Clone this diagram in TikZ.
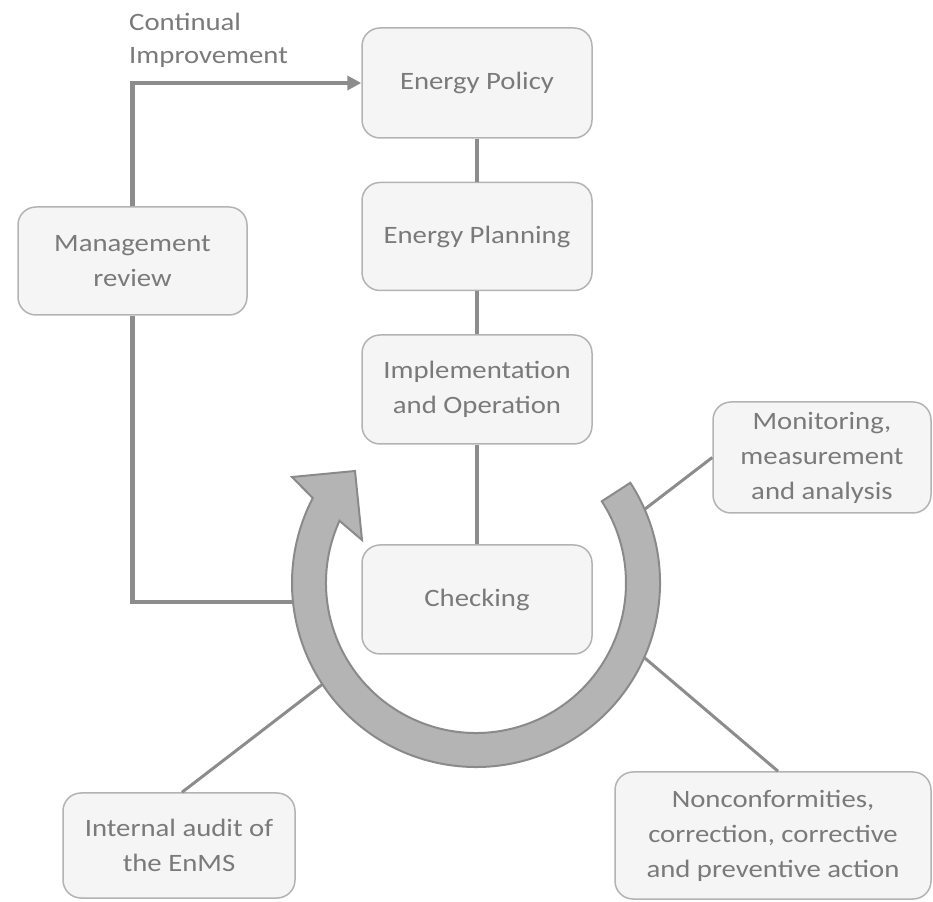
\documentclass[tikz,border=0pt]{standalone}
\usepackage{fontspec}
\setmainfont{Carlito}[FakeStretch=1.15]
\usetikzlibrary{arrows.meta}
\definecolor{boxfill}{HTML}{F5F5F5}
\definecolor{boxedge}{HTML}{B3B3B3}
\definecolor{txt}{HTML}{7A7A7A}
\definecolor{linec}{HTML}{8C8C8C}
\definecolor{ringfill}{HTML}{B4B4B4}
\definecolor{ringedge}{HTML}{8A8A8A}
\begin{document}
\begin{tikzpicture}[x=1pt,y=1pt,
  box/.style={draw=boxedge, fill=boxfill, line width=1.5pt, rounded corners=18pt,
    align=center, text=txt, inner sep=0pt,
    font=\fontsize{25}{35}\selectfont},
  conn/.style={draw=linec, line width=3.5pt},
  thin conn/.style={draw=linec, line width=3pt},
  thick conn/.style={draw=linec, line width=4.5pt}]
\useasboundingbox (0,0) rectangle (933,901);

% ring arrow
\begin{scope}[shift={(476,318)}]
\filldraw[fill=ringfill, draw=ringedge, line width=2pt, line join=miter]
  (33:184) arc[start angle=33, end angle=-207.5, radius=184]
  -- (-184,106) -- (-121,112) -- (-114,43)
  -- (-204.5:150) arc[start angle=-204.5, end angle=33, radius=150] -- cycle;
\coordinate (ringW) at (186:184);
\coordinate (ringMon) at (23.6:184);
\coordinate (ringAud) at (213.4:184);
\coordinate (ringNc) at (-23.9:184);
\end{scope}

% boxes
\node[box, minimum width=230, minimum height=110] (pol) at (477,818) {Energy Policy};
\node[box, minimum width=230, minimum height=108] (plan) at (477,664.5) {Energy Planning};
\node[box, minimum width=230, minimum height=109] (impl) at (477,511.5) {Implementation\\and Operation};
\node[box, minimum width=230, minimum height=109] (chk) at (477,301.5) {Checking};
\node[box, minimum width=229, minimum height=108] (mgmt) at (132.5,640) {Management\\review};
\node[box, minimum width=218, minimum height=111] (mon) at (822,443.5) {Monitoring,\\measurement\\and analysis};
\node[box, minimum width=232, minimum height=105] (aud) at (179,55.5) {Internal audit of\\the EnMS};
\node[box, minimum width=316, minimum height=127] (nc) at (773,65.5) {Nonconformities,\\correction, corrective\\and preventive action};

\node[anchor=north west, align=left, inner sep=0pt, text=txt,
  font=\fontsize{25}{33}\selectfont] (ci) at (129,888) {Continual\\Improvement};

% connectors
\draw[conn] (pol) -- (plan);
\draw[conn] (plan) -- (impl);
\draw[conn] (impl) -- (chk);
\draw[thick conn, -{Triangle[length=14pt,width=14pt]}] (mgmt.north) |- (pol.west);
\draw[thick conn] (mgmt.south) |- (ringW);
\draw[thin conn] (mon.west) -- (ringMon);
\draw[thin conn] ([xshift=3pt]aud.north) -- (ringAud);
\draw[thin conn] ([xshift=5pt]nc.north) -- (ringNc);
\end{tikzpicture}
\end{document}
